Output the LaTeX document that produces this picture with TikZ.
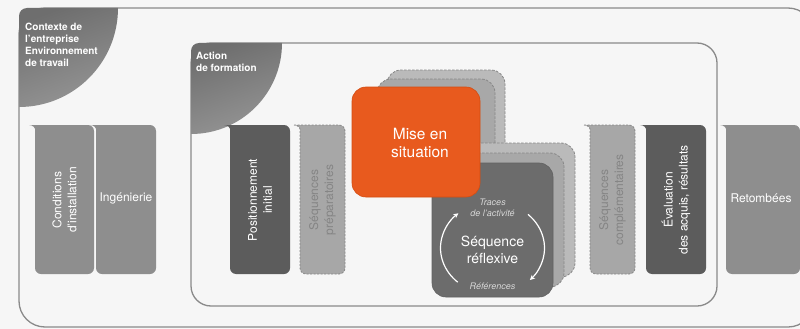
\documentclass[tikz,border=0pt]{standalone}
\usepackage{fontspec}
\setmainfont{TeX Gyre Heros}
\usetikzlibrary{arrows.meta}
\definecolor{bgcol}{HTML}{F6F6F6}
\definecolor{framecol}{HTML}{8A8A8A}
\definecolor{midcol}{HTML}{8E8E8E}
\definecolor{darkcol}{HTML}{5C5C5C}
\definecolor{lightcol}{HTML}{A7A7A7}
\definecolor{lighttxt}{HTML}{858585}
\definecolor{dashcol}{HTML}{878787}
\definecolor{orangecol}{HTML}{E85A1E}
\definecolor{orangeedge}{HTML}{D44C12}
\definecolor{reflcol}{HTML}{6C6C6C}
\definecolor{tracecol}{HTML}{D6D6D6}
\definecolor{quartop}{HTML}{6E6E6E}
\definecolor{quarbot}{HTML}{959595}
\newcommand\tabshape[5]{\path[#1] (#2-6,#3) [rounded corners=6pt] -- (#4,#3) -- (#4,#5) -- (#2,#5) -- (#2,#3+10) [sharp corners] .. controls (#2,#3+3) and (#2-2,#3) .. (#2-6,#3) -- cycle;}
\begin{document}
\begin{tikzpicture}[x=1pt,y=-1pt,
  framestyle/.style={draw=framecol,line width=1.3pt},
  quarterstyle/.style={top color=quartop,bottom color=quarbot,shading angle=20},
  labeltext/.style={text=white,font=\bfseries\fontsize{10}{12}\selectfont,align=left,inner sep=0pt,anchor=north west},
  coltext/.style={text=white,font=\fontsize{12}{15}\selectfont,align=center,inner sep=0pt},
  coltextlight/.style={text=lighttxt,font=\fontsize{12}{15}\selectfont,align=center,inner sep=0pt},
  midfill/.style={fill=midcol},
  darkfill/.style={fill=darkcol},
  dashfill/.style={fill=lightcol,draw=dashcol,line width=0.8pt,dash pattern=on 2pt off 1.5pt},
  layerA/.style={fill=black!27,draw=dashcol,line width=0.8pt,dash pattern=on 2.5pt off 1.5pt,rounded corners=14pt},
  layerB/.style={fill=black!34,draw=dashcol,line width=0.8pt,dash pattern=on 2.5pt off 1.5pt,rounded corners=14pt},
  bigtext/.style={text=white,font=\fontsize{15.5}{18}\selectfont,align=center,inner sep=0pt},
  smalltext/.style={text=tracecol,font=\itshape\fontsize{9}{11}\selectfont,align=center,inner sep=0pt},
  cyclearrow/.style={draw=white,line width=1.2pt,-{Stealth[length=5pt,width=5pt]}}
]
\useasboundingbox (0,0) rectangle (800,329);
\clip (0,0) rectangle (800,329);
\fill[bgcol] (0,0) rectangle (800,329);

% outer frame
\draw[framestyle,rounded corners=26pt] (19,8) rectangle (814,327);
% contexte quarter
\shade[quarterstyle] (19,100) -- (19,16) arc[start angle=180,end angle=90,radius=8pt] -- (118,8) arc[start angle=0,end angle=-90,radius=99pt] -- cycle;
\node[labeltext] (contexte) at (25,23) {Contexte de\\l'entreprise\\Environnement\\de travail};

% inner frame
\draw[framestyle,rounded corners=20pt] (191,43) rectangle (717,306);
\shade[quarterstyle] (191,128) -- (191,51) arc[start angle=180,end angle=90,radius=8pt] -- (282,43) arc[start angle=0,end angle=-90,radius=91pt] -- cycle;
\node[labeltext] (action) at (196,52) {Action\\de formation};

% left columns
\tabshape{midfill}{35}{125}{94}{274}
\node[coltext,rotate=90] (conditions) at (64.5,200) {Conditions\\d'installation};
\tabshape{midfill}{96}{125}{156}{274}
\node[coltext] (ingenierie) at (126,198) {Ingénierie};

% inner columns
\tabshape{darkfill}{230}{125}{290}{274}
\node[coltext,rotate=90] (position) at (260,200) {Positionnement\\initial};
\tabshape{dashfill}{300}{125}{345}{274}
\node[coltextlight,rotate=90] (prep) at (322.5,200) {Séquences\\préparatoires};
\tabshape{dashfill}{590}{125}{635}{274}
\node[coltextlight,rotate=90] (compl) at (612.5,200) {Séquences\\complémentaires};
\tabshape{darkfill}{646}{125}{706}{274}
\node[coltext,rotate=90] (eval) at (676,200) {Évaluation\\des acquis, résultats};

% right column
\tabshape{midfill}{726}{125}{800}{274}
\node[coltext] (retombees) at (761,198) {Retombées};

% stacks behind mise en situation
\path[layerA] (387,70) rectangle (505,180);
\path[layerB] (377,79) rectangle (495,189);
% stacks behind sequence reflexive
\path[layerA] (454,143) rectangle (575,277);
\path[layerB] (443,153) rectangle (564,287);
% front reflexive box
\path[fill=reflcol,draw=black!62,line width=0.6pt,rounded corners=14pt] (432,163) rectangle (553,297);
\node[bigtext,font=\fontsize{14}{17}\selectfont] (reflexive) at (492.5,250) {Séquence\\réflexive};
\node[smalltext] (traces) at (492.5,208) {Traces\\de l'activité};
\node[smalltext] (references) at (492.5,286) {Références};
\coordinate (cyc) at (492.5,248);
\draw[cyclearrow] ([shift={(228:52pt and 46pt)}]cyc) arc[start angle=228,end angle=131,x radius=52pt,y radius=46pt];
\draw[cyclearrow] ([shift={(47:52pt and 46pt)}]cyc) arc[start angle=47,end angle=-44,x radius=52pt,y radius=46pt];

% front orange box
\path[fill=orangecol,draw=orangeedge,line width=0.6pt,rounded corners=14pt] (352,87) rectangle (480,197);
\node[bigtext] (mise) at (420,143) {Mise en\\situation};
\end{tikzpicture}
\end{document}
